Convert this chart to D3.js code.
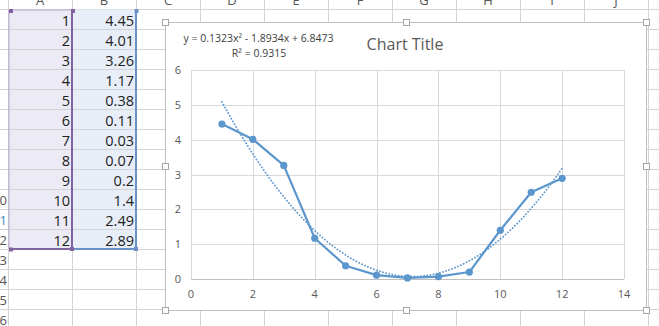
<!DOCTYPE html>
<html>
<head>
<meta charset="utf-8">
<script src="https://cdn.jsdelivr.net/npm/d3@7"></script>
<style>
  body { margin: 0; background: #fff; }
  svg { display: block; font-family: "Open Sans", "Noto Sans", sans-serif; }
</style>
</head>
<body>
<svg id="sheet" width="659" height="326"></svg>
<script>
// sheet data (columns A and B)
const xValues = [1, 2, 3, 4, 5, 6, 7, 8, 9, 10, 11, 12];
const yValues = [4.45, 4.01, 3.26, 1.17, 0.38, 0.11, 0.03, 0.07, 0.2, 1.4, 2.49, 2.89];
const yLabels = ["4.45", "4.01", "3.26", "1.17", "0.38", "0.11", "0.03", "0.07", "0.2", "1.4", "2.49", "2.89"];
const columnNames = ["A", "B", "C", "D", "E", "F", "G", "H", "I", "J"];
const rowNumbers = [10, 11, 12, 13, 14, 15, 16];

// polynomial trendline, as shown in the label
const trendCoef = [6.8473, -1.8934, 0.1323]; // c0 + c1 x + c2 x^2
const trendLabel = "y = 0.1323x² - 1.8934x + 6.8473";
const r2Label = "R² = 0.9315";

const xTicks = [0, 2, 4, 6, 8, 10, 12, 14];
const yTicks = [0, 1, 2, 3, 4, 5, 6];

const svg = d3.select("#sheet");

const colW = 64, rowH = 20, left0 = 8, top0 = 9.5;
const blue = "#5b96cc";

// --- spreadsheet grid ---
const grid = svg.append("g").attr("stroke", "#d4d4d4").attr("stroke-width", 1);
for (let i = 0; i <= 10; i++) {
  const x = left0 + i * colW + 0.5;
  grid.append("line").attr("x1", x).attr("x2", x).attr("y1", 0).attr("y2", 326);
}
for (let j = 0; j <= 16; j++) {
  const y = top0 + j * rowH;
  grid.append("line").attr("x1", 0).attr("x2", 659).attr("y1", y).attr("y2", y);
}

// column headers (cut off at the top, as in the screenshot)
svg.append("g")
  .selectAll("text")
  .data(columnNames)
  .join("text")
  .attr("x", (d, i) => left0 + i * colW + colW / 2)
  .attr("y", 5)
  .attr("text-anchor", "middle")
  .attr("font-size", 13)
  .attr("fill", "#555")
  .text(d => d);

// row numbers (cut off at the left)
svg.append("g")
  .selectAll("text")
  .data(rowNumbers)
  .join("text")
  .attr("x", 7)
  .attr("y", d => top0 + (d - 1) * rowH + 15)
  .attr("text-anchor", "end")
  .attr("font-size", 13)
  .attr("fill", d => d === 11 ? "#3b8ac4" : "#555")
  .text(d => d);

// selected ranges
svg.append("rect").attr("x", 9).attr("y", top0).attr("width", 63).attr("height", 240).attr("fill", "#eceaf4");
svg.append("rect").attr("x", 73).attr("y", top0).attr("width", 63).attr("height", 240).attr("fill", "#e8eef7");
const cellLines = svg.append("g").attr("stroke", "#d4d4d4");
for (let j = 1; j < 12; j++) {
  cellLines.append("line").attr("x1", 9).attr("x2", 136).attr("y1", top0 + j * rowH).attr("y2", top0 + j * rowH);
}

const cells = svg.append("g").attr("font-size", 14.5).attr("fill", "#222").attr("text-anchor", "end");
cells.selectAll(".a")
  .data(xValues)
  .join("text")
  .attr("class", "a")
  .attr("x", 70)
  .attr("y", (d, i) => top0 + i * rowH + 16)
  .text(d => d);
cells.selectAll(".b")
  .data(yLabels)
  .join("text")
  .attr("class", "b")
  .attr("x", 134)
  .attr("y", (d, i) => top0 + i * rowH + 16)
  .text(d => d);

// selection borders
svg.append("path")
  .attr("d", "M9,10H72V249H9Z")
  .attr("fill", "none").attr("stroke", "#b8a6d0").attr("stroke-width", 1);
svg.append("path")
  .attr("d", "M72,10V249H10")
  .attr("fill", "none").attr("stroke", "#8064a2").attr("stroke-width", 2);
svg.append("path")
  .attr("d", "M136,10V249H73")
  .attr("fill", "none").attr("stroke", "#6b92c8").attr("stroke-width", 2);
[[9, 9, "#8064a2"], [71, 9, "#8064a2"], [9, 247.5, "#8064a2"], [70, 247, "#8064a2"], [134.5, 9, "#6b92c8"], [134, 247, "#6b92c8"]]
  .forEach(([x, y, c]) => svg.append("rect").attr("x", x).attr("y", y).attr("width", 4).attr("height", 4).attr("fill", c));

// --- chart object ---
const frame = { x0: 165.5, y0: 22.5, x1: 646.5, y1: 310.5 };
svg.append("rect")
  .attr("x", frame.x0).attr("y", frame.y0)
  .attr("width", frame.x1 - frame.x0).attr("height", frame.y1 - frame.y0)
  .attr("fill", "#fff").attr("stroke", "#bfbfbf");

const x = d3.scaleLinear().domain([0, 14]).range([191, 624]);
const y = d3.scaleLinear().domain([0, 6]).range([279, 70]);

const plot = svg.append("g");

// gridlines
plot.append("g")
  .selectAll("line")
  .data(yTicks)
  .join("line")
  .attr("x1", x(0)).attr("x2", x(14))
  .attr("y1", d => Math.round(y(d)) + 0.5).attr("y2", d => Math.round(y(d)) + 0.5)
  .attr("stroke", d => d === 0 ? "#bfbfbf" : "#d9d9d9");
plot.append("g")
  .selectAll("line")
  .data(xTicks)
  .join("line")
  .attr("x1", d => Math.round(x(d)) + 0.5).attr("x2", d => Math.round(x(d)) + 0.5)
  .attr("y1", y(6)).attr("y2", y(0))
  .attr("stroke", "#d9d9d9");

// tick labels
const axisFont = 11;
plot.append("g")
  .selectAll("text")
  .data(yTicks)
  .join("text")
  .attr("x", 181)
  .attr("y", d => y(d) + 4)
  .attr("text-anchor", "end")
  .attr("font-size", axisFont)
  .attr("fill", "#595959")
  .text(d => d);
plot.append("g")
  .selectAll("text")
  .data(xTicks)
  .join("text")
  .attr("x", d => x(d))
  .attr("y", 298)
  .attr("text-anchor", "middle")
  .attr("font-size", axisFont)
  .attr("fill", "#595959")
  .text(d => d);

// trendline (evaluated from the label's coefficients)
const trendXs = d3.range(1, 12.001, 0.1);
const poly = t => trendCoef[0] + trendCoef[1] * t + trendCoef[2] * t * t;
plot.append("path")
  .datum(trendXs)
  .attr("d", d3.line().x(d => x(d)).y(d => y(poly(d))))
  .attr("fill", "none")
  .attr("stroke", blue)
  .attr("stroke-width", 1.8)
  .attr("stroke-dasharray", "0.1,3.1")
  .attr("stroke-linecap", "round");

// data series
const points = xValues.map((v, i) => [v, yValues[i]]);
plot.append("path")
  .datum(points)
  .attr("d", d3.line().x(d => x(d[0])).y(d => y(d[1])))
  .attr("fill", "none")
  .attr("stroke", blue)
  .attr("stroke-width", 2.2)
  .attr("stroke-linejoin", "round");
plot.append("g")
  .selectAll("circle")
  .data(points)
  .join("circle")
  .attr("cx", d => x(d[0]))
  .attr("cy", d => y(d[1]))
  .attr("r", 3.6)
  .attr("fill", blue);

// title and trendline label
svg.append("text")
  .attr("x", 405).attr("y", 50)
  .attr("text-anchor", "middle")
  .attr("font-size", 16)
  .attr("fill", "#595959")
  .text("Chart Title");
svg.append("text")
  .attr("x", 258.5).attr("y", 42)
  .attr("text-anchor", "middle")
  .attr("font-size", 10.5)
  .attr("fill", "#404040")
  .text(trendLabel);
svg.append("text")
  .attr("x", 259).attr("y", 57)
  .attr("text-anchor", "middle")
  .attr("font-size", 10.5)
  .attr("fill", "#404040")
  .text(r2Label);

// chart handles
const hx = [frame.x0, (frame.x0 + frame.x1) / 2, frame.x1];
const hy = [frame.y0, (frame.y0 + frame.y1) / 2, frame.y1];
const handles = [];
hx.forEach((a, i) => hy.forEach((b, j) => { if (!(i === 1 && j === 1)) handles.push([a, b]); }));
svg.append("g")
  .selectAll("rect")
  .data(handles)
  .join("rect")
  .attr("x", d => Math.round(d[0] - 3.5) + 0.5)
  .attr("y", d => Math.round(d[1] - 3.5) + 0.5)
  .attr("width", 6).attr("height", 6)
  .attr("fill", "#fff")
  .attr("stroke", "#a6a6a6");
</script>
</body>
</html>
